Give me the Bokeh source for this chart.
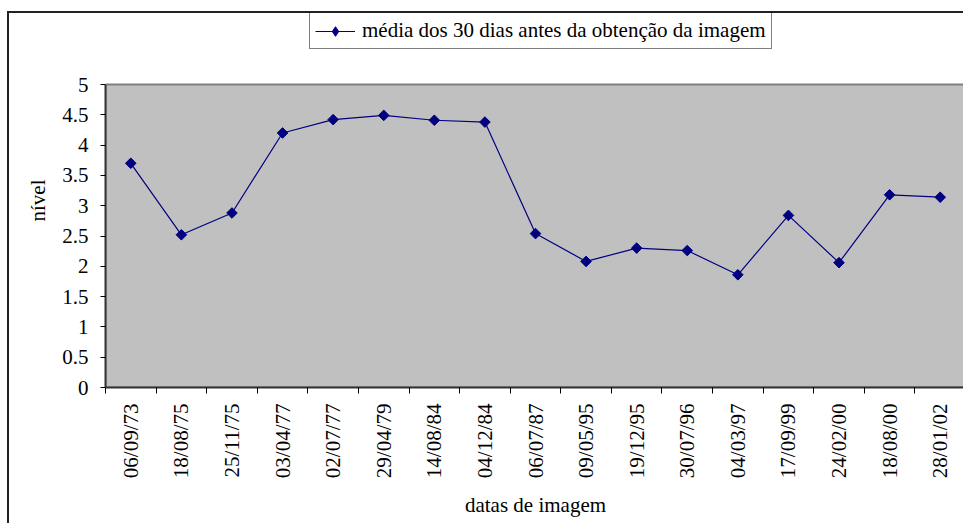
from bokeh.plotting import figure
from bokeh.models import (FixedTicker, NumeralTickFormatter, Range1d, Legend, LegendItem,
                          ColumnDataSource)
from bokeh.embed import file_html
from bokeh.resources import INLINE
import math

dates = ["06/09/73", "18/08/75", "25/11/75", "03/04/77", "02/07/77", "29/04/79",
         "14/08/84", "04/12/84", "06/07/87", "09/05/95", "19/12/95", "30/07/96",
         "04/03/97", "17/09/99", "24/02/00", "18/08/00", "28/01/02"]
nivel = [3.70, 2.52, 2.88, 4.20, 4.42, 4.49, 4.41, 4.38, 2.54, 2.08, 2.30, 2.26,
         1.86, 2.84, 2.06, 3.18, 3.14]
y_ticks = [0, 0.5, 1, 1.5, 2, 2.5, 3, 3.5, 4, 4.5, 5]
series_name = "média dos 30 dias antes da obtenção da imagem"
x_title = "datas de imagem"
y_title = "nível"

FONT = "Liberation Serif"
FS = "21px"
n = len(dates)
y_lo, y_hi = y_ticks[0], y_ticks[-1]
xs = [i + 0.5 for i in range(n)]
src = ColumnDataSource(dict(x=xs, y=nivel))

# layout (pixels)
W, H = 956, 512
frame_h = 374          # whole frame, incl. white legend band above the grey area
plot_h = 303           # grey plotting area height
y_top = y_hi * frame_h / plot_h

p = figure(width=W, height=H, output_backend="svg", toolbar_location=None,
           x_range=Range1d(0, n), y_range=Range1d(y_lo, y_top),
           min_border_left=96, min_border_right=0, min_border_top=0,
           min_border_bottom=H - frame_h)
p.margin = (11, 0, 0, 7)
p.styles = {"border-left": "2px solid #222222", "border-top": "2px solid #222222"}
p.background_fill_color = "white"
p.border_fill_color = "white"
p.outline_line_color = None

# grey plot area
p.quad(left=[0], right=[n], bottom=[y_lo], top=[y_hi], fill_color="#C0C0C0",
       line_color="#808080", line_width=2)

# grid
p.xgrid.grid_line_color = None
p.ygrid.ticker = FixedTicker(ticks=y_ticks[1:-1])
p.ygrid.grid_line_color = "black"
p.ygrid.grid_line_width = 1

# x axis: labels at centres, ticks at category boundaries
xa = p.xaxis[0]
xa.ticker = FixedTicker(ticks=xs, minor_ticks=list(range(n + 1)))
xa.major_label_overrides = {x: d for x, d in zip(xs, dates)}
xa.major_label_orientation = math.pi / 2
xa.major_tick_out = 0
xa.major_tick_in = 0
xa.minor_tick_out = 6
xa.minor_tick_in = 0
xa.minor_tick_line_color = "black"
xa.axis_line_color = "#333333"
xa.axis_line_width = 2
xa.major_label_standoff = 10
xa.major_label_text_font = FONT
xa.major_label_text_font_size = FS
xa.major_label_text_color = "black"
xa.axis_label = x_title
xa.axis_label_text_font = FONT
xa.axis_label_text_font_size = FS
xa.axis_label_text_font_style = "normal"
xa.axis_label_text_color = "black"
xa.axis_label_standoff = 12

ya = p.yaxis[0]
ya.ticker = FixedTicker(ticks=y_ticks, minor_ticks=[])
ya.formatter = NumeralTickFormatter(format="0.[0]")
ya.bounds = (y_lo, y_hi)
ya.major_tick_out = 5
ya.major_tick_in = 0
ya.major_tick_line_color = "black"
ya.axis_line_color = "#333333"
ya.axis_line_width = 2
ya.major_label_standoff = 12
ya.major_label_text_font = FONT
ya.major_label_text_font_size = FS
ya.major_label_text_color = "black"
ya.axis_label = y_title
ya.axis_label_text_font = FONT
ya.axis_label_text_font_size = FS
ya.axis_label_text_font_style = "normal"
ya.axis_label_text_color = "black"
ya.axis_label_standoff = 9

r_line = p.line("x", "y", source=src, line_color="#000080", line_width=1.2)
# diamond key marker (used by the legend; hidden under the rotated squares)
r_key = p.scatter("x", "y", source=src, marker="diamond", size=9,
                  fill_color="#000080", line_color="#000080")
r_mark = p.scatter("x", "y", source=src, marker="square", angle=math.pi / 4,
                   size=7.5, fill_color="#000080", line_color="#000080")

legend = Legend(items=[LegendItem(label=series_name, renderers=[r_line, r_key])],
                location=(204, 338), orientation="horizontal")
legend.label_text_font = FONT
legend.label_text_font_size = FS
legend.label_text_color = "black"
legend.border_line_color = "black"
legend.border_line_width = 1
legend.background_fill_color = "white"
legend.background_fill_alpha = 1
legend.glyph_width = 40
legend.glyph_height = 24
legend.label_height = 24
legend.label_standoff = 7
legend.padding = 5
legend.margin = 0
p.add_layout(legend, "center")

open("out.html", "w").write(file_html(p, INLINE))
